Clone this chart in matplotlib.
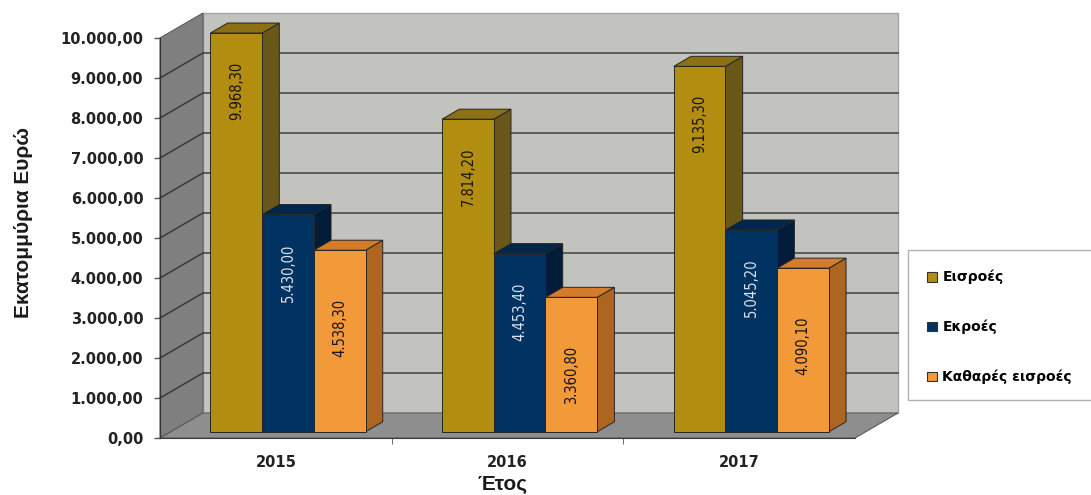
import matplotlib
matplotlib.use('Agg')
import matplotlib.pyplot as plt
from matplotlib.patches import Polygon, Rectangle, Patch

# values in million euro
years = ['2015', '2016', '2017']
series = ['Εισροές', 'Εκροές', 'Καθαρές εισροές']
inflows = [9968.30, 7814.20, 9135.30]
outflows = [5430.00, 4453.40, 5045.20]
net_inflows = [4538.30, 3360.80, 4090.10]
yticks = list(range(0, 10001, 1000))

# front / top / side shades for each series
colors = [('#b28d0f', '#8c7015', '#6a581a'),
          ('#003262', '#00264a', '#001c38'),
          ('#f2993a', '#d47c27', '#ad661f')]
label_colors = ['#151515', '#dde4ee', '#151515']
label_drop = [1450, 1450, 1950]


def gr(v):
    s = '{:,.2f}'.format(v)
    return s.replace(',', ' ').replace('.', ',').replace(' ', '.')


W, H = 1091, 495
fig = plt.figure(figsize=(W / 100, H / 100), dpi=100)
ax = fig.add_axes([160 / W, (H - 438) / H, 695 / W, 400 / H])
ax.set_xlim(-0.5, 2.5)
ax.set_ylim(0, 10000)
ax.patch.set_visible(False)

x0, x1 = ax.get_xlim()
top = yticks[-1]
# depth of the box, in data units (43 px right, 25 px up)
DX = 43 / (695 / 3)
DY = 625

# walls and floor
ax.add_patch(Polygon([(x0 + DX, DY), (x1 + DX, DY), (x1 + DX, top + DY), (x0 + DX, top + DY)],
                     closed=True, fc='#c2c2be', ec='#a4a4a4', lw=1, clip_on=False, zorder=0))
ax.add_patch(Polygon([(x0, 0), (x0 + DX, DY), (x0 + DX, top + DY), (x0, top)],
                     closed=True, fc='#7f7f7f', ec='#5a5a5a', lw=0.8, clip_on=False, zorder=0))
ax.add_patch(Polygon([(x0, 0), (x1, 0), (x1 + DX, DY), (x0 + DX, DY)],
                     closed=True, fc='#8e8e8e', ec='#5a5a5a', lw=0.8, clip_on=False, zorder=1))
for t in yticks[1:-1]:
    ax.plot([x0 + DX, x1 + DX], [t + DY, t + DY], color='#4a4a4a', lw=1.2, clip_on=False, zorder=0.5)
    ax.plot([x0, x0 + DX], [t, t + DY], color='#3a3a3a', lw=1.1, clip_on=False, zorder=0.5)

# 3d-looking bars
f0, fd = 0.25, 0.4
bx, by = DX * f0, DY * f0
sx, sy = DX * fd, DY * fd
w = 51.7 / (695 / 3)
for s, vals in enumerate([inflows, outflows, net_inflows]):
    front, topc, side = colors[s]
    for i, v in enumerate(vals):
        left = i + bx + (s - 1.5) * w + 0.006
        right = left + w
        z = 3 + 2 * s
        ax.add_patch(Polygon([(right, by), (right + sx, by + sy), (right + sx, by + v + sy), (right, by + v)],
                             closed=True, fc=side, ec='#262626', lw=0.7, zorder=z, clip_on=False))
        ax.add_patch(Polygon([(left, by + v), (right, by + v), (right + sx, by + v + sy), (left + sx, by + v + sy)],
                             closed=True, fc=topc, ec='#262626', lw=0.7, zorder=z, clip_on=False))
        ax.bar(left, v, width=w, bottom=by, align='edge', color=front, edgecolor='#262626',
               lw=0.7, zorder=z + 1, clip_on=False)
        ax.text(left + w / 2, by + v - label_drop[s], gr(v), rotation=90, ha='center', va='center',
                fontsize=10.5, family='DejaVu Sans', fontstretch='condensed', fontweight='medium',
                color=label_colors[s], zorder=20)

# axes
for k in ['top', 'right']:
    ax.spines[k].set_visible(False)
ax.spines['left'].set_color('#333333')
ax.spines['bottom'].set_color('#3a3a3a')
ax.spines['left'].set_zorder(2)
ax.spines['bottom'].set_zorder(2)
ax.set_yticks(yticks)
ax.set_yticklabels([gr(t) for t in yticks], fontsize=10.5, fontweight='bold', color='#222222')
ax.tick_params(axis='y', length=4, width=1, color='#555555', pad=8)
ax.set_xticks(range(len(years)))
ax.set_xticklabels(years, fontsize=10.5, fontweight='bold', color='#222222')
ax.set_xticks([0.5, 1.5], minor=True)
ax.tick_params(axis='x', which='major', length=0, pad=12)
ax.tick_params(axis='x', which='minor', length=4, color='#555555')

fig.text(24 / W, 1 - 222 / H, 'Εκατομμύρια Ευρώ', rotation=90, ha='center', va='center',
         fontsize=15, fontweight='bold', family='Liberation Sans', color='#1a1a1a')
fig.text(503 / W, 1 - 485 / H, 'Έτος', ha='center', va='center',
         fontsize=15, fontweight='bold', family='Liberation Sans', color='#1a1a1a')

# legend
fig.add_artist(Rectangle((908 / W, 1 - 400 / H), 200 / W, 150 / H, transform=fig.transFigure,
                         fc='white', ec='#b0b0b0', lw=1))
handles = [Patch(fc=c[0], ec='#333333', lw=0.8) for c in colors]
fig.legend(handles, series, loc='upper left', bbox_to_anchor=(927 / W, 1 - 270 / H),
           frameon=False, handlelength=0.7, handleheight=0.7, handletextpad=0.4,
           labelspacing=2.55, borderaxespad=0, borderpad=0,
           prop={'size': 10, 'weight': 'bold', 'family': 'DejaVu Sans'})

fig.savefig('out.png', dpi=100, facecolor='white')
